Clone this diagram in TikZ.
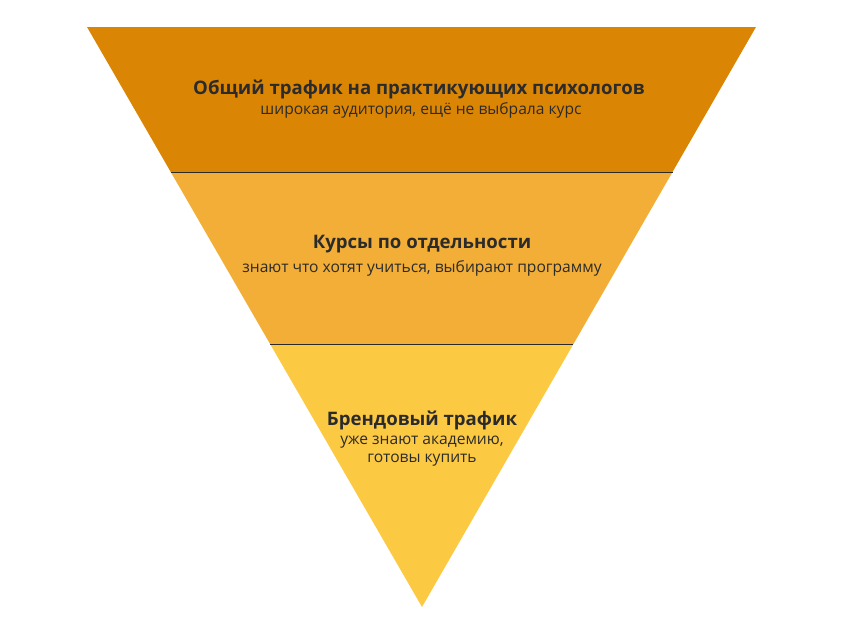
\documentclass[tikz,border=0pt]{standalone}
\usepackage{fontspec}
\setmainfont{Open Sans}
\usetikzlibrary{calc}
\definecolor{bandtop}{HTML}{DB8505}
\definecolor{bandmid}{HTML}{F2AE36}
\definecolor{bandlow}{HTML}{FCC943}
\definecolor{ink}{HTML}{2B2B2B}
\begin{document}
\begin{tikzpicture}[x=1pt, y=-1pt]
      \useasboundingbox (0, 0) rectangle (843, 638);
      \coordinate (tl) at (87, 27);
      \coordinate (tr) at (756, 27);
      \coordinate (ap) at (422, 607);
      \coordinate (al) at ($(tl)!0.25!(ap)$);
      \coordinate (ar) at ($(tr)!0.25!(ap)$);
      \coordinate (bl) at ($(tl)!0.5466!(ap)$);
      \coordinate (br) at ($(tr)!0.5466!(ap)$);
      \fill[bandtop] (tl) -- (tr) -- (ar) -- (al) -- cycle;
      \fill[bandmid] (al) -- (ar) -- (br) -- (bl) -- cycle;
      \fill[bandlow] (bl) -- (br) -- (ap) -- cycle;
      \draw[ink, line width = 1pt] (al) -- (ar);
      \draw[ink, line width = 1pt] (bl) -- (br);
      \node [color = ink, font = \bfseries\fontsize{18.6}{21}\selectfont] (ta) at (419, 89) {Общий трафик на практикующих психологов};
      \node [color = ink, font = \fontsize{15.6}{18}\selectfont] (sa) at (421, 110) {широкая аудитория, ещё не выбрала курс};
      \node [color = ink, font = \bfseries\fontsize{18.6}{21}\selectfont] (tb) at (422, 244) {Курсы по отдельности};
      \node [color = ink, font = \fontsize{15.6}{18}\selectfont] (sb) at (422, 268) {знают что хотят учиться, выбирают программу};
      \node [color = ink, font = \bfseries\fontsize{18.6}{21}\selectfont] (tc) at (422, 420) {Брендовый трафик};
      \node [color = ink, font = \fontsize{15.6}{18}\selectfont, align = center] (sc) at (422, 451) {уже знают академию,\\готовы купить};
    \end{tikzpicture}
\end{document}
